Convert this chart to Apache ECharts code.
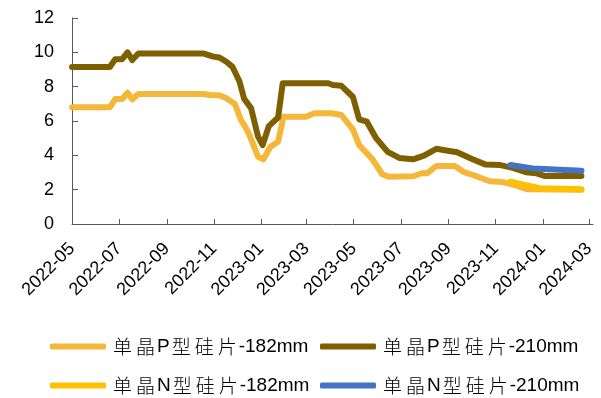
<!DOCTYPE html>
<html>
<head>
<meta charset="utf-8">
<script src="https://cdn.jsdelivr.net/npm/echarts@6/dist/echarts.min.js"></script>
<style>
  html, body { margin: 0; padding: 0; background: #fff; }
  #chart { width: 601px; height: 398px; }
</style>
</head>
<body>
<div id="chart"></div>
<script>
// Wafer prices (yuan / piece), weekly quotes
const seriesNames = ['单晶P型硅片-182mm', '单晶P型硅片-210mm', '单晶N型硅片-182mm', '单晶N型硅片-210mm'];
const seriesColors = ['#F5B73A', '#7F6000', '#FFC000', '#4472C4'];

const tickLabels = ['2022-05', '2022-07', '2022-09', '2022-11', '2023-01', '2023-03',
                    '2023-05', '2023-07', '2023-09', '2023-11', '2024-01', '2024-03'];

const p182Dates = ['2022-05-01', '2022-06-19', '2022-06-26', '2022-07-05', '2022-07-12', '2022-07-18', '2022-07-26',
  '2022-10-19', '2022-10-27', '2022-11-08', '2022-11-17', '2022-11-28', '2022-12-06', '2022-12-15', '2022-12-23',
  '2022-12-28', '2023-01-04', '2023-01-13', '2023-01-23', '2023-01-30', '2023-02-28', '2023-03-11', '2023-04-02',
  '2023-04-15', '2023-04-30', '2023-05-08', '2023-05-25', '2023-06-07', '2023-06-15', '2023-07-17', '2023-07-29',
  '2023-08-04', '2023-08-16', '2023-09-09', '2023-09-21', '2023-10-07', '2023-10-24', '2023-11-10', '2023-11-23',
  '2023-12-12', '2024-02-20'];
const p182Values = [6.8, 6.8, 7.28, 7.28, 7.65, 7.26, 7.57,
  7.57, 7.51, 7.5, 7.32, 6.99, 6.06, 5.38, 4.5,
  3.92, 3.77, 4.5, 4.79, 6.25, 6.25, 6.45, 6.45,
  6.35, 5.5, 4.6, 3.78, 2.9, 2.75, 2.78, 2.97,
  2.95, 3.38, 3.38, 3.02, 2.78, 2.49, 2.44, 2.3,
  2.02, 2.0];

const p210Dates = ['2022-05-01', '2022-06-19', '2022-06-26', '2022-07-05', '2022-07-12', '2022-07-18', '2022-07-26',
  '2022-10-19', '2022-10-31', '2022-11-08', '2022-11-17', '2022-11-25', '2022-12-04', '2022-12-10', '2022-12-19',
  '2022-12-28', '2023-01-03', '2023-01-11', '2023-01-23', '2023-01-29', '2023-03-29', '2023-04-04', '2023-04-15',
  '2023-04-30', '2023-05-08', '2023-05-18', '2023-05-30', '2023-06-14', '2023-06-29', '2023-07-17', '2023-07-31',
  '2023-08-16', '2023-08-29', '2023-09-12', '2023-10-02', '2023-10-19', '2023-11-07', '2023-11-23', '2023-12-10',
  '2023-12-24', '2024-01-03', '2024-02-20'];
const p210Values = [9.15, 9.15, 9.6, 9.6, 10.0, 9.55, 9.93,
  9.93, 9.75, 9.7, 9.45, 9.15, 8.3, 7.3, 6.75,
  5.1, 4.6, 5.7, 6.2, 8.2, 8.2, 8.1, 8.05,
  7.4, 6.1, 5.96, 5.0, 4.2, 3.85, 3.77, 3.98,
  4.38, 4.28, 4.18, 3.77, 3.46, 3.43, 3.27, 3.02,
  2.95, 2.8, 2.8];

const n182Dates = ['2023-11-20', '2023-12-06', '2023-12-28', '2024-02-20'];
const n182Values = [2.46, 2.31, 2.08, 2.02];

const n210Dates = ['2023-11-20', '2023-12-19', '2024-02-20'];
const n210Values = [3.44, 3.24, 3.1];

const toTime = s => +new Date(s + 'T00:00:00');
const pairs = (dates, values) => dates.map((d, i) => [toTime(d), values[i]]);

const seriesData = [
  pairs(p182Dates, p182Values),
  pairs(p210Dates, p210Values),
  pairs(n182Dates, n182Values),
  pairs(n210Dates, n210Values)
];

const tickTimes = tickLabels.map(l => toTime(l + '-01'));

const latin = 'Liberation Sans, Arial, sans-serif';
const cjk = 'Noto Sans CJK SC';

// Each CJK character becomes its own padded token; Latin runs stay whole
function richName(name) {
  return name.replace(/([\u4e00-\u9fff])|([^\u4e00-\u9fff]+)/g, (m, c, l) =>
    c ? '{c|' + c + '}' : '{l|' + l + '}');
}

// One legend per entry, laid out as a 2 x 2 block
const legendSlots = [
  { left: 50, top: 337 },   // P 182
  { left: 320, top: 337 },  // P 210
  { left: 50, top: 376 },   // N 182
  { left: 320, top: 376 }   // N 210
];

const legends = seriesNames.map((name, i) => ({
  data: [name],
  left: legendSlots[i].left,
  top: legendSlots[i].top,
  padding: 0,
  itemWidth: 56,
  itemHeight: 6,
  icon: 'roundRect',
  formatter: richName,
  textStyle: {
    color: '#000',
    rich: {
      c: { fontFamily: cjk, fontSize: 19, color: '#000', fontWeight: 300, padding: [0, 2, 0, 2] },
      l: { fontFamily: latin, fontSize: 19, color: '#000' }
    }
  }
}));

const chart = echarts.init(document.getElementById('chart'), null, { renderer: 'canvas' });

chart.setOption({
  animation: false,
  backgroundColor: '#fff',
  grid: { left: 72, right: 8, top: 18, bottom: 174 },
  legend: legends,
  xAxis: {
    type: 'value',
    min: toTime('2022-05-01'),
    max: toTime('2024-03-06'),
    splitLine: { show: false },
    axisLine: { show: true, lineStyle: { color: '#595959', width: 1 } },
    axisTick: { show: true, inside: true, length: 5, customValues: tickTimes,
                lineStyle: { color: '#595959' } },
    axisLabel: {
      customValues: tickTimes,
      rotate: 45,
      margin: 22,
      color: '#000',
      fontFamily: latin,
      fontSize: 18,
      formatter: v => {
        const i = tickTimes.indexOf(v);
        return i >= 0 ? tickLabels[i] : '';
      }
    }
  },
  yAxis: {
    type: 'value',
    min: 0,
    max: 12,
    interval: 2,
    splitLine: { show: false },
    axisLine: { show: true, lineStyle: { color: '#595959', width: 1 } },
    axisTick: { show: true, inside: true, length: 6, lineStyle: { color: '#595959' } },
    axisLabel: { margin: 18, color: '#000', fontFamily: latin, fontSize: 18 }
  },
  series: seriesNames.map((name, i) => ({
    name,
    type: 'line',
    data: seriesData[i],
    showSymbol: false,
    symbol: 'none',
    color: seriesColors[i],
    lineStyle: { width: 6, color: seriesColors[i], cap: 'round', join: 'round' }
  }))
});
</script>
</body>
</html>
